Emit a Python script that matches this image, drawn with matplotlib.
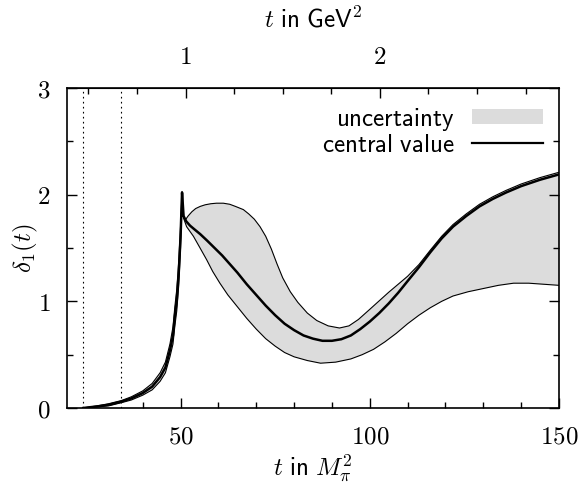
import numpy as np
import matplotlib
matplotlib.use("Agg")
import matplotlib.pyplot as plt
from matplotlib.patches import Patch
from matplotlib.lines import Line2D

plt.rcParams['mathtext.fontset'] = 'cm'
plt.rcParams['font.family'] = ['DejaVu Sans']

MPI2 = 0.13957 ** 2  # GeV^2

# central value
central_x = [24.3, 28, 31, 34.4, 37, 40, 42.5, 44.6, 46, 47.2, 48, 48.5, 49, 49.5, 50, 50.4,
             50.8, 51.5, 52.5, 53.5, 55.2, 57, 59, 61, 63, 65, 67.5, 70, 72.5, 75, 77.5, 80,
             82.5, 85, 87.5, 90, 92.5, 95, 97.5, 100, 102.5, 105, 107.5, 110, 113, 116, 119,
             122, 125.5, 129, 132.5, 136, 140, 145, 150]
central_y = [0.0, 0.015, 0.03, 0.06, 0.09, 0.14, 0.2, 0.29, 0.38, 0.54, 0.68, 0.86, 1.01, 1.25, 1.6, 2.02,
             1.80, 1.75, 1.71, 1.68, 1.63, 1.57, 1.50, 1.43, 1.35, 1.27, 1.16, 1.06, 0.96, 0.87, 0.79, 0.73,
             0.68, 0.65, 0.63, 0.63, 0.645, 0.68, 0.74, 0.81, 0.89, 0.98, 1.08, 1.19, 1.32, 1.46, 1.59,
             1.70, 1.80, 1.89, 1.96, 2.02, 2.08, 2.14, 2.19]

# upper edge of uncertainty band
upper_x = [24.2, 28, 31, 34.4, 37, 40, 42.5, 44.6, 46, 47.2, 48, 48.5, 49, 49.5, 50, 50.4,
           50.8, 51.2, 52, 53, 54, 55.2, 56.5, 58, 59.5, 61.3, 63, 64.5, 66.6, 68, 69.5, 71,
           72.5, 74, 75.5, 77, 79, 81, 83.5, 86, 89, 92, 94.5, 97, 100, 102.5, 105, 107.5,
           110, 113, 116, 119, 122, 125.5, 129, 132.5, 136, 140, 145, 150]
upper_y = [0.0, 0.02, 0.04, 0.07, 0.105, 0.16, 0.23, 0.33, 0.43, 0.60, 0.76, 0.95, 1.11, 1.36, 1.7, 2.03,
           1.80, 1.76, 1.80, 1.84, 1.87, 1.89, 1.905, 1.915, 1.92, 1.92, 1.91, 1.89, 1.86, 1.82, 1.77, 1.70,
           1.61, 1.49, 1.35, 1.22, 1.09, 0.99, 0.89, 0.82, 0.77, 0.75, 0.77, 0.83, 0.925, 1.005, 1.085, 1.16,
           1.235, 1.345, 1.48, 1.61, 1.72, 1.82, 1.91, 1.98, 2.04, 2.10, 2.16, 2.21]

# lower edge of uncertainty band
lower_x = [24.4, 28, 31, 34.4, 37, 40, 42.5, 44.6, 46, 47.2, 48, 48.5, 49, 49.5, 50, 50.4,
           50.8, 51.2, 51.6, 53.4, 55, 56.9, 58.5, 60.4, 62.5, 65, 67.5, 70, 72.5, 75, 77.5,
           80, 83.5, 87, 91, 95, 98, 101, 104, 107, 110, 113, 116, 119, 122, 126, 130, 134,
           138, 142, 146, 150]
lower_y = [0.0, 0.01, 0.02, 0.05, 0.075, 0.12, 0.17, 0.25, 0.33, 0.48, 0.60, 0.77, 0.91, 1.14, 1.5, 2.0,
           1.78, 1.74, 1.70, 1.61, 1.51, 1.39, 1.28, 1.17, 1.06, 0.95, 0.84, 0.74, 0.65, 0.58, 0.52,
           0.48, 0.445, 0.42, 0.43, 0.46, 0.50, 0.55, 0.62, 0.70, 0.79, 0.87, 0.94, 1.0, 1.05, 1.09,
           1.12, 1.15, 1.17, 1.17, 1.16, 1.15]

dotted_x = [24.26, 34.4]

bottom_major = [50, 100, 150]
bottom_minor = [40, 60, 70, 80, 90, 110, 120, 130, 140]
top_major = [1, 2]
top_minor = [0.5, 0.75, 1.25, 1.5, 1.75, 2.25, 2.5, 2.75]
y_major = [0, 1, 2, 3]
y_minor = [0.5, 1.5, 2.5]

fig = plt.figure(figsize=(5.79, 4.88), dpi=100)
ax = fig.add_axes([67 / 579, 80 / 488, 492 / 579, 320 / 488])

poly_x = np.concatenate([upper_x, lower_x[::-1]])
poly_y = np.concatenate([upper_y, lower_y[::-1]])
ax.fill(poly_x, poly_y, color='#dcdcdc', lw=0, zorder=1)
ax.plot(upper_x, upper_y, color='black', lw=0.8, zorder=2)
ax.plot(lower_x, lower_y, color='black', lw=0.8, zorder=2)
ax.plot(central_x, central_y, color='black', lw=1.8, zorder=3)

for xv in dotted_x:
    ax.axvline(xv, color='black', lw=0.8, ls=(0, (1.5, 3)), zorder=0)

ax.set_xlim(20, 150)
ax.set_ylim(0, 3)

ax.set_xticks(bottom_major)
ax.set_xticklabels([f'${v}$' for v in bottom_major])
ax.set_xticks(bottom_minor, minor=True)
ax.set_yticks(y_major)
ax.set_yticklabels([f'${v}$' for v in y_major])
ax.set_yticks(y_minor, minor=True)
ax.tick_params(which='both', direction='in', top=False, right=True, labelsize=18)
ax.tick_params(which='major', length=7, width=1.0)
ax.tick_params(which='minor', length=4, width=1.0)
ax.tick_params(axis='x', pad=12)
ax.tick_params(axis='y', pad=12)
for s in ax.spines.values():
    s.set_linewidth(1.2)

sec = ax.secondary_xaxis('top', functions=(lambda x: x * MPI2, lambda t: t / MPI2))
sec.set_xticks(top_major)
sec.set_xticklabels([f'${v}$' for v in top_major])
sec.set_xticks(top_minor, minor=True)
sec.tick_params(which='both', direction='in', labelsize=18, pad=14)
sec.tick_params(which='major', length=7, width=1.0)
sec.tick_params(which='minor', length=4, width=1.0)
sec.set_xlabel(r'$t\ \mathsf{in\ GeV}^2$', fontsize=18, labelpad=12)

ax.set_xlabel(r'$t\ \mathsf{in}\ M_\pi^2$', fontsize=18, labelpad=3)
ax.set_ylabel(r'$\delta_1(t)$', fontsize=18)
ax.yaxis.set_label_coords(-0.055, 0.5)

handles = [Patch(facecolor='#dcdcdc', edgecolor='none'),
           Line2D([0], [0], color='black', lw=1.6)]
leg = ax.legend(handles, [r'$\mathsf{uncertainty}$', r'$\mathsf{central\ value}$'],
                loc='upper right', frameon=False, fontsize=18, markerfirst=False,
                handlelength=2.85, handleheight=0.55, handletextpad=0.7, labelspacing=0.0,
                borderpad=0.0, borderaxespad=0.0, bbox_to_anchor=(0.9675, 0.945))

fig.savefig('out.png', dpi=100)
